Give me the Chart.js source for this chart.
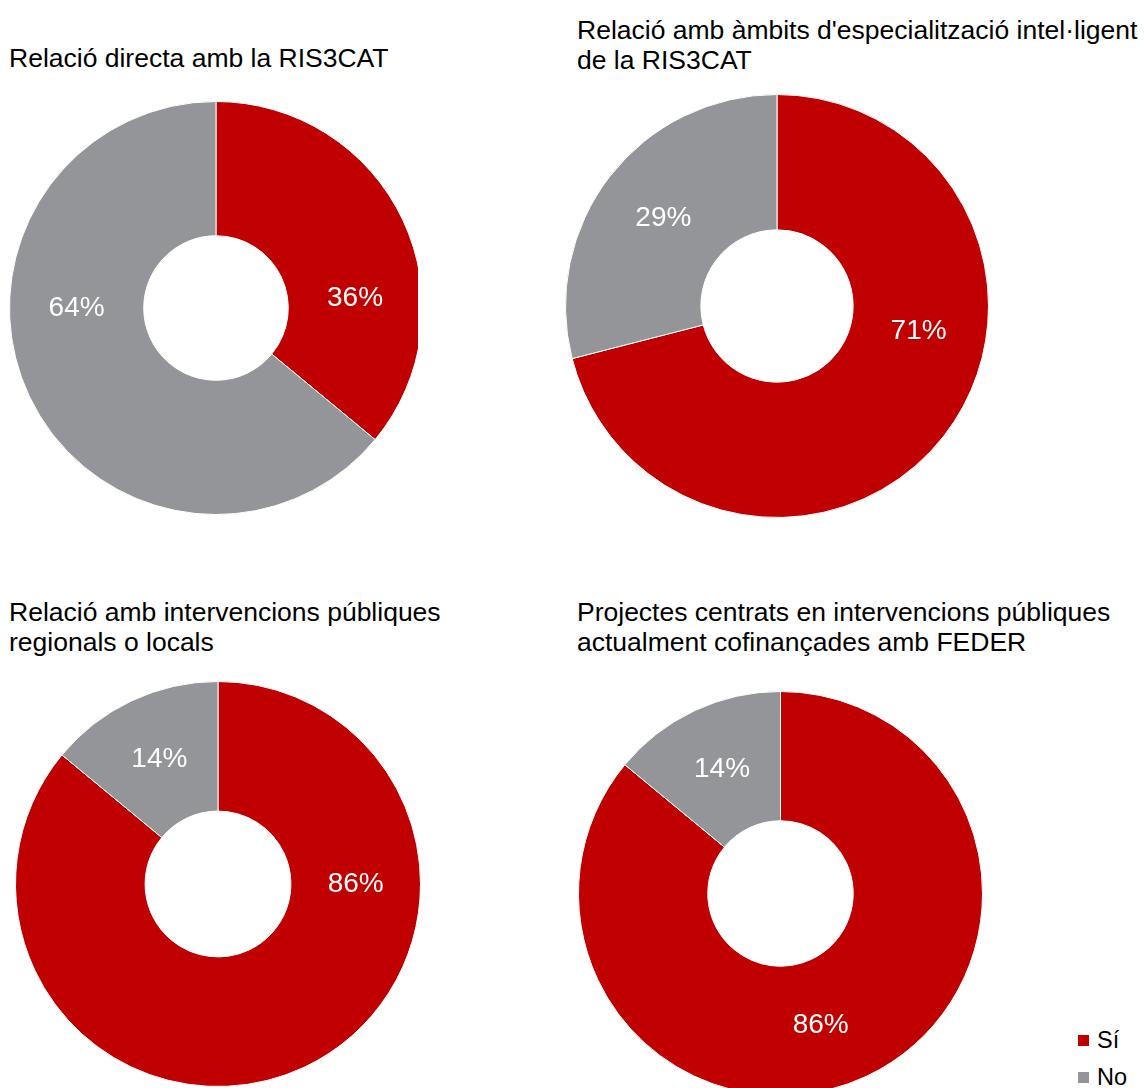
<!DOCTYPE html>
<html>
<head>
<meta charset="utf-8">
<script src="https://cdn.jsdelivr.net/npm/chart.js@4"></script>
<style>
  html, body { margin: 0; padding: 0; background: #fff; width: 1145px; height: 1088px; overflow: hidden; }
  body { position: relative; font-family: "Liberation Sans", Arial, sans-serif; color: #000; }
  .title { position: absolute; font-size: 26.5px; line-height: 30px; white-space: nowrap; }
  .wrap { position: absolute; overflow: hidden; }
  canvas { position: absolute; }
  .legend { position: absolute; left: 1078px; top: 1022px; font-size: 23.5px; line-height: 37px; }
  .legend div { display: flex; align-items: center; }
  .legend span.sw { display: inline-block; width: 11px; height: 11px; margin-right: 8px; }
</style>
</head>
<body>
<div class="title" id="t0" style="left:9px; top:43px;"></div>
<div class="title" id="t1" style="left:577px; top:15px;"></div>
<div class="title" id="t2" style="left:9px; top:597px;"></div>
<div class="title" id="t3" style="left:577px; top:597px;"></div>

<div class="wrap" style="left:0; top:0; width:418px; height:560px;">
  <canvas id="c0" width="414" height="414" style="left:9px; top:101px;"></canvas>
</div>
<div class="wrap" style="left:560px; top:80px; width:585px; height:460px;">
  <canvas id="c1" width="424" height="424" style="left:4.5px; top:14px;"></canvas>
</div>
<div class="wrap" style="left:0; top:670px; width:560px; height:418px;">
  <canvas id="c2" width="406" height="406" style="left:15px; top:11px;"></canvas>
</div>
<div class="wrap" style="left:560px; top:670px; width:500px; height:418px;">
  <canvas id="c3" width="405" height="405" style="left:18px; top:20.5px;"></canvas>
</div>

<div class="legend" id="legend"></div>

<script>
// ---- data ----
const categories = ['Sí', 'No'];
const chartTitles = [
  ['Relació directa amb la RIS3CAT'],
  ["Relació amb àmbits d'especialització intel·ligent", 'de la RIS3CAT'],
  ['Relació amb intervencions públiques', 'regionals o locals'],
  ['Projectes centrats en intervencions públiques', 'actualment cofinançades amb FEDER']
];
const valuesRelacioDirecta = [36, 64];
const valuesAmbitsEspecialitzacio = [71, 29];
const valuesIntervencionsRegionals = [86, 14];
const valuesCofinancadesFeder = [86, 14];

// ---- style ----
const RED = '#c00000';
const GRAY = '#939598';
const FONT = '"Liberation Sans", Arial, sans-serif';
const cutouts = ['35%', '36%', '36%', '36%'];
// data-label placement (degrees clockwise from top; null = middle of the slice), as in the original's "best fit" layout
const labelPlacement = [[86, 270], [100, null], [90, null], [163, null]];

const allValues = [valuesRelacioDirecta, valuesAmbitsEspecialitzacio, valuesIntervencionsRegionals, valuesCofinancadesFeder];

const pctLabels = {
  id: 'pctLabels',
  afterDatasetsDraw(chart, args, opts) {
    const ctx = chart.ctx;
    const meta = chart.getDatasetMeta(0);
    const data = chart.data.datasets[0].data;
    const angles = opts.angles || [];
    ctx.save();
    ctx.fillStyle = '#ffffff';
    ctx.font = '28px ' + FONT;
    ctx.textAlign = 'center';
    ctx.textBaseline = 'middle';
    meta.data.forEach((arc, i) => {
      const props = arc.getProps(['x', 'y', 'startAngle', 'endAngle', 'innerRadius', 'outerRadius'], true);
      const r = (props.innerRadius + props.outerRadius) / 2;
      let a = (props.startAngle + props.endAngle) / 2;
      if (angles[i] != null) a = angles[i] * Math.PI / 180 - Math.PI / 2;
      ctx.fillText(data[i] + '%', props.x + r * Math.cos(a), props.y + r * Math.sin(a));
    });
    ctx.restore();
  }
};

chartTitles.forEach((lines, i) => {
  document.getElementById('t' + i).innerHTML = lines.map(l => l.replace(/&/g,'&amp;').replace(/</g,'&lt;')).join('<br>');
});

allValues.forEach((vals, i) => {
  new Chart(document.getElementById('c' + i), {
    type: 'doughnut',
    data: {
      labels: categories,
      datasets: [{
        data: vals,
        backgroundColor: [RED, GRAY],
        borderColor: '#ffffff',
        borderWidth: 1
      }]
    },
    options: {
      responsive: false,
      maintainAspectRatio: false,
      animation: false,
      cutout: cutouts[i],
      layout: { padding: 0 },
      plugins: {
        legend: { display: false },
        tooltip: { enabled: false },
        title: { display: false },
        pctLabels: { angles: labelPlacement[i] }
      }
    },
    plugins: [pctLabels]
  });
});

// shared legend
const legendColors = [RED, GRAY];
document.getElementById('legend').innerHTML = categories.map((c, i) =>
  '<div><span class="sw" style="background:' + legendColors[i] + '"></span>' + c + '</div>'
).join('');
</script>
</body>
</html>
